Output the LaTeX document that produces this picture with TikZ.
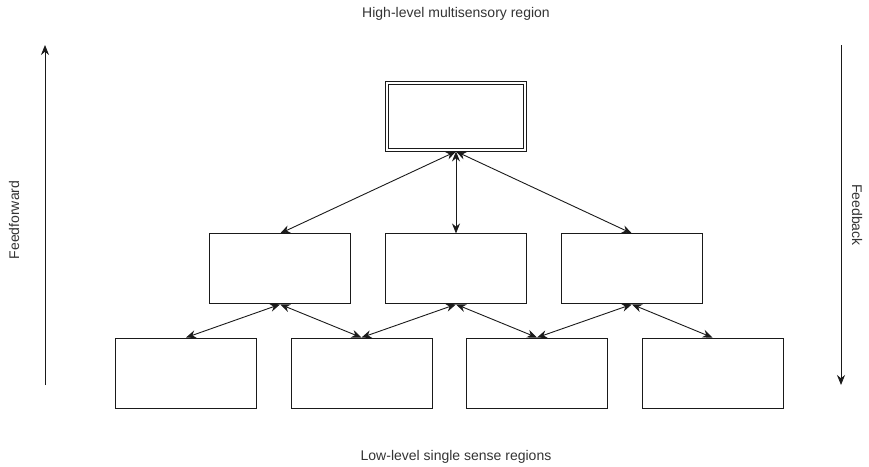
\documentclass[tikz,border=0pt]{standalone}
\usepackage{fontspec}
\setmainfont{Liberation Sans}
\usepackage{tikz}
\usetikzlibrary{positioning,arrows.meta}
\definecolor{ink}{HTML}{1A1A1A}
\definecolor{txt}{HTML}{333333}

\begin{document}
\begin{tikzpicture}[
  x=1pt, y=-1pt,
  font=\fontsize{14pt}{16pt}\selectfont,
  >={Stealth[length=10pt,width=8pt]},
  region/.style={draw=ink, line width=0.9pt, minimum width=141pt, minimum height=70pt, inner sep=0pt},
  inner/.style={region, minimum width=135pt, minimum height=64pt},
  lbl/.style={text=txt, inner sep=0pt},
  link/.style={<->, draw=ink, line width=0.9pt},
  flow/.style={->, draw=ink, line width=0.9pt},
]
\useasboundingbox (0,0) rectangle (869,466);
% top level
\node[region] (top) at (456,116) {};
\node[inner] (topin) at (top) {};
% middle level
\node[region, below=82pt of top] (midc) {};
\node[region, left=34pt of midc] (midl) {};
\node[region, right=34pt of midc] (midr) {};
% single sense level
\node[region] (lowa) at (186,373) {};
\node[region, right=33.6pt of lowa] (lowb) {};
\node[region, right=33.6pt of lowb] (lowc) {};
\node[region, right=33.6pt of lowc] (lowd) {};
% connections
\draw[link] (top.south) -- (midl.north);
\draw[link] (top.south) -- (midc.north);
\draw[link] (top.south) -- (midr.north);
\draw[link] (midl.south) -- (lowa.north);
\draw[link] (midl.south) -- (lowb.north);
\draw[link] (midc.south) -- (lowb.north);
\draw[link] (midc.south) -- (lowc.north);
\draw[link] (midr.south) -- (lowc.north);
\draw[link] (midr.south) -- (lowd.north);
% side arrows
\coordinate (ffbot) at (45,385);
\coordinate (fftop) at (45,45);
\coordinate (fbtop) at (841,45);
\coordinate (fbbot) at (841,385);
\draw[flow] (ffbot) -- (fftop);
\draw[flow] (fbtop) -- (fbbot);
\node[lbl, rotate=90] (ff) at (14,220) {Feedforward};
\node[lbl, rotate=-90] (fb) at (857,215) {Feedback};
\node[lbl] (hi) at (456,14) {High-level multisensory region};
\node[lbl] (lo) at (456,457) {Low-level single sense regions};
\end{tikzpicture}
\end{document}
